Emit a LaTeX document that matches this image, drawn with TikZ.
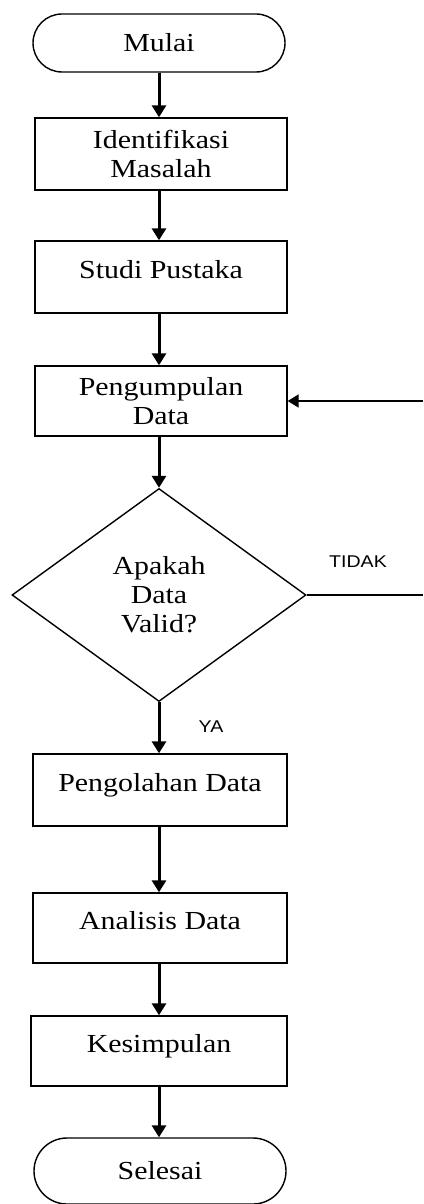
\documentclass[tikz,border=0pt]{standalone}
\usepackage{fontspec}
\setmainfont{Liberation Serif}[FakeStretch=1.15]
\newfontfamily\labfont{Liberation Sans}[FakeStretch=1.15]
\usetikzlibrary{shapes.geometric,shapes.misc,arrows.meta}
\begin{document}
\begin{tikzpicture}[x=1pt,y=-1pt,
  every node/.style={font=\fontsize{26}{29}\selectfont},
  term/.style={draw,line width=1.4pt,rounded rectangle,rounded rectangle arc length=180,minimum width=252pt,minimum height=#1,inner sep=0pt},
  term/.default=58pt,
  procbox/.style={draw,line width=1.4pt,rectangle,minimum width=#1,inner sep=0pt,align=center},
  procbox/.default=252pt,
  oneline/.style={text height=18pt,text depth=16pt},
  decision/.style={draw,line width=1.4pt,diamond,minimum width=294pt,minimum height=213pt,inner sep=0pt,align=center},
  flow/.style={line width=3pt,-{Triangle[length=12pt,width=14pt]}},
  back/.style={line width=2pt,-{Triangle[length=11pt,width=13pt]}},
  plain/.style={line width=1.4pt},
  lab/.style={font=\labfont\fontsize{17}{19}\selectfont}
]
\useasboundingbox (0,0) rectangle (423,1204);

\node[term] (mulai) at (159,43) {Mulai};
\node[procbox,minimum height=72pt] (ident) at (161,154) {Identifikasi\\Masalah};
\node[procbox,minimum height=72pt,oneline] (studi) at (161,277) {Studi Pustaka};
\node[procbox,minimum height=70pt] (kumpul) at (161,401) {Pengumpulan\\Data};
\node[decision] (dec) at (159,595) {Apakah\\Data\\Valid?};
\node[procbox=254pt,minimum height=72pt,oneline] (olah) at (160,790) {Pengolahan Data};
\node[procbox=254pt,minimum height=70pt,oneline] (anal) at (160,928) {Analisis Data};
\node[procbox=256pt,minimum height=70pt,oneline] (kesim) at (159,1051) {Kesimpulan};
\node[term=66pt] (selesai) at (160,1171) {Selesai};

\node[lab] (tidak) at (358,562) {TIDAK};
\node[lab] (ya) at (211,727) {YA};

\coordinate (fb) at (423,401);
\coordinate (tend) at (423,595);

\draw[flow] (mulai.south -| 159,0) -- (ident.north -| 159,0);
\draw[flow] (ident.south -| 159,0) -- (studi.north -| 159,0);
\draw[flow] (studi.south -| 159,0) -- (kumpul.north -| 159,0);
\draw[flow] (kumpul.south -| 159,0) -- (dec.north);
\draw[flow] (dec.south) -- (olah.north -| 159,0);
\draw[flow] (olah.south -| 159,0) -- (anal.north -| 159,0);
\draw[flow] (anal.south -| 159,0) -- (kesim.north -| 159,0);
\draw[flow] (kesim.south -| 159,0) -- (selesai.north -| 159,0);
\draw[back] (fb) -- (kumpul.east);
\draw[plain] (dec.east) -- (tend);
\end{tikzpicture}
\end{document}
